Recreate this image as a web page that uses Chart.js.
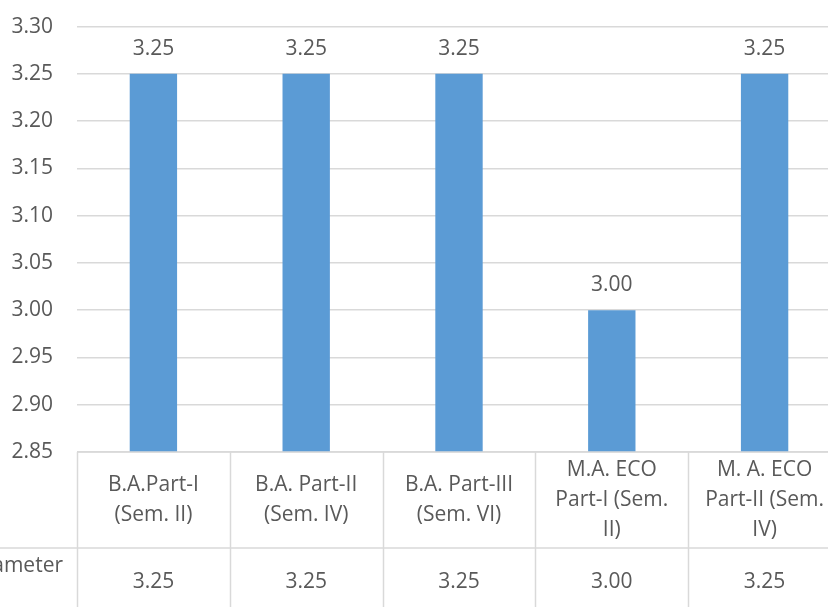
<!DOCTYPE html>
<html>
<head>
<meta charset="utf-8">
<script src="https://cdn.jsdelivr.net/npm/chart.js@4"></script>
<style>
  html, body { margin: 0; padding: 0; background: #fff; overflow: hidden; }
  #wrap { width: 828px; height: 607px; overflow: hidden; position: relative; }
  #wrap canvas { position: absolute; left: 0; top: -10px; }
</style>
</head>
<body>
<div id="wrap"><canvas id="c" width="845" height="617"></canvas></div>
<script>
// ---- data ----
const categories = [
  ["B.A.Part-I", "(Sem. II)"],
  ["B.A. Part-II", "(Sem. IV)"],
  ["B.A. Part-III", "(Sem. VI)"],
  ["M.A. ECO", "Part-I (Sem.", "II)"],
  ["M. A. ECO", "Part-II (Sem.", "IV)"]
];
const seriesName = "Parameter";
const values = [3.25, 3.25, 3.25, 3.00, 3.25];
const yMin = 2.85, yMax = 3.30, yStep = 0.05;

const FONT = "'Open Sans', sans-serif";
const FS = 21;
const TEXT = "#595959";
const GRID = "#D9D9D9";

const tablePlugin = {
  id: "tablePlugin",
  afterDatasetsDraw(chart) {
    const ctx = chart.ctx;
    const xs = chart.scales.x;
    const area = chart.chartArea;
    const meta = chart.getDatasetMeta(0);
    ctx.save();
    // data labels
    ctx.font = FS + "px " + FONT;
    ctx.fillStyle = TEXT;
    ctx.textAlign = "center";
    ctx.textBaseline = "middle";
    meta.data.forEach((bar, i) => {
      ctx.fillText(values[i].toFixed(2), bar.x, bar.y - 25);
    });
    // table
    const n = categories.length;
    const w = (area.right - area.left) / n;
    const top = area.bottom;
    const row1 = top + 96;
    const bottom = chart.height;
    ctx.strokeStyle = GRID;
    ctx.lineWidth = 1.5;
    ctx.beginPath();
    ctx.moveTo(area.left, top); ctx.lineTo(area.right, top);
    ctx.moveTo(0, row1); ctx.lineTo(area.right, row1);
    for (let i = 0; i <= n; i++) {
      const x = Math.round(area.left + i * w) + 0.5;
      ctx.moveTo(x, top); ctx.lineTo(x, bottom);
    }
    ctx.stroke();
    ctx.fillStyle = TEXT;
    const lh = 30;
    categories.forEach((lines, i) => {
      const cx = xs.getPixelForValue(i);
      const cy = (top + row1) / 2;
      const y0 = cy - (lines.length - 1) * lh / 2;
      lines.forEach((t, k) => ctx.fillText(t, cx, y0 + k * lh));
      ctx.fillText(values[i].toFixed(2), cx, row1 + 34);
    });
    ctx.textAlign = "right";
    ctx.fillText(seriesName, 63, row1 + 18);
    ctx.restore();
  }
};

new Chart(document.getElementById("c"), {
  type: "bar",
  data: {
    labels: categories.map(l => l.join(" ")),
    datasets: [{
      label: seriesName,
      data: values,
      backgroundColor: "#5B9BD5",
      borderWidth: 0,
      barPercentage: 0.62,
      categoryPercentage: 0.5
    }]
  },
  options: {
    responsive: false,
    animation: false,
    layout: { padding: { top: 14, bottom: 155, right: 4, left: 0 } },
    plugins: { legend: { display: false }, tooltip: { enabled: false } },
    scales: {
      x: { display: false },
      y: {
        min: yMin, max: yMax,
        border: { display: false },
        grid: { color: GRID, lineWidth: 1.5, drawTicks: false },
        ticks: {
          stepSize: yStep,
          padding: 24,
          color: TEXT,
          font: { family: FONT, size: FS },
          callback: v => v.toFixed(2)
        },
        afterFit: s => { s.width = 77; }
      }
    }
  },
  plugins: [tablePlugin]
});
</script>
</body>
</html>
